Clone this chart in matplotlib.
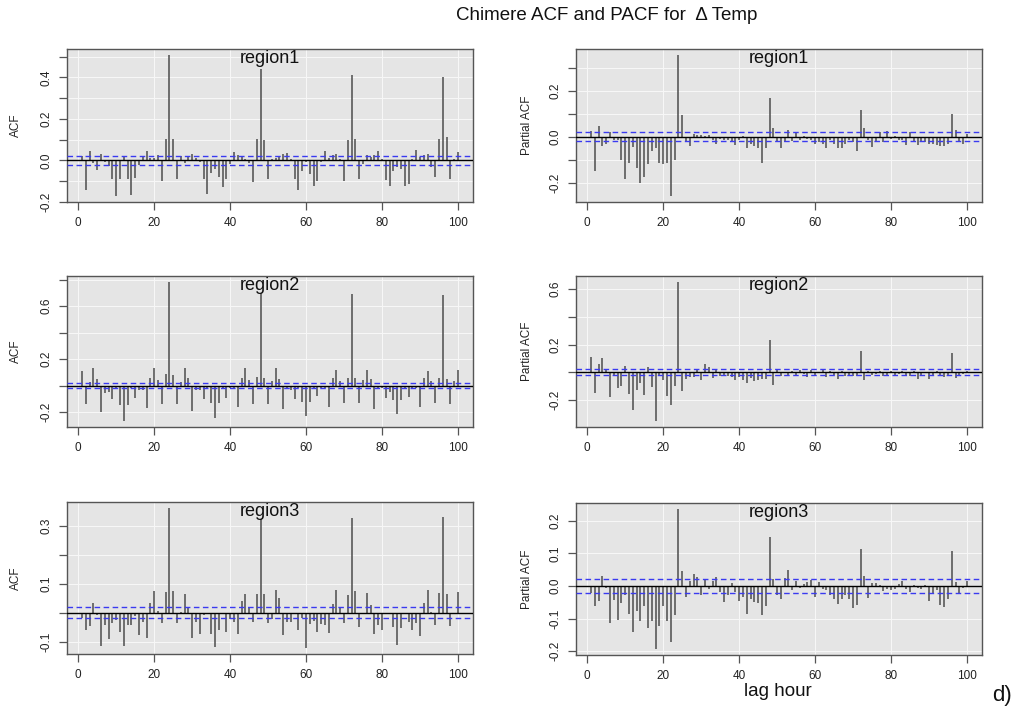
import numpy as np
import matplotlib
matplotlib.use("Agg")
import matplotlib.pyplot as plt

plt.rcParams["font.family"] = ["Liberation Sans", "DejaVu Sans"]
plt.rcParams["axes.unicode_minus"] = False

# lags 1..100 for each region
acf_region1 = [
    0.02, -0.14, 0.045, -0.01, -0.045, 0.03, -0.005, -0.025, -0.09, -0.17,
    -0.09, 0.02, -0.09, -0.165, -0.085, -0.02, 0.015, 0.045, 0.01, 0.01,
    0.025, -0.10, 0.105, 0.51, 0.105, -0.09, 0.02, -0.01, 0.015, 0.03,
    0.01, -0.005, -0.09, -0.16, -0.06, -0.04, -0.08, -0.13, -0.09, -0.015,
    0.04, 0.025, 0.02, 0.005, -0.01, -0.105, 0.105, 0.44, 0.10, -0.09,
    0.005, 0.01, 0.015, 0.03, 0.035, 0.005, -0.09, -0.14, -0.05, -0.005,
    -0.065, -0.125, -0.10, -0.005, 0.045, 0.01, 0.025, 0.03, 0.005, -0.10,
    0.10, 0.41, 0.105, -0.09, -0.015, 0.025, 0.015, 0.025, 0.045, 0.005,
    -0.095, -0.125, -0.05, -0.03, -0.04, -0.125, -0.115, 0.005, 0.05, 0.015,
    0.025, 0.03, -0.03, -0.08, 0.105, 0.40, 0.115, -0.09, 0.005, 0.04,
]
pacf_region1 = [
    0.027, -0.15, 0.05, -0.04, -0.03, 0.022, -0.012, -0.015, -0.10, -0.185,
    -0.115, -0.045, -0.135, -0.20, -0.175, -0.12, -0.06, -0.05, -0.115, -0.12,
    -0.115, -0.26, -0.10, 0.36, 0.097, -0.024, -0.04, 0.012, 0.007, 0.007,
    0.006, 0.007, -0.012, -0.03, -0.01, -0.015, -0.015, -0.022, -0.037, -0.015,
    0.003, -0.05, -0.03, -0.04, -0.05, -0.115, -0.05, 0.17, 0.037, -0.022,
    -0.05, -0.022, 0.03, -0.02, 0.022, -0.012, 0.003, -0.007, -0.015, -0.03,
    -0.022, -0.032, -0.047, -0.015, -0.03, -0.05, -0.047, -0.032, -0.015, -0.022,
    -0.06, 0.12, 0.037, -0.015, -0.045, -0.022, 0.022, -0.022, 0.027, -0.007,
    0.003, -0.012, -0.015, -0.037, 0.022, -0.022, -0.037, -0.022, -0.022, -0.03,
    -0.03, -0.037, -0.04, -0.04, -0.03, 0.10, 0.03, -0.022, -0.03, 0.012,
]
acf_region2 = [
    0.11, -0.14, 0.03, 0.13, 0.05, -0.20, -0.055, -0.05, -0.10, -0.02,
    -0.145, -0.27, -0.145, -0.02, -0.09, -0.03, -0.03, -0.17, 0.06, 0.13,
    0.04, -0.14, 0.085, 0.785, 0.08, -0.14, 0.03, 0.13, 0.055, -0.19,
    -0.03, -0.03, -0.10, -0.015, -0.13, -0.245, -0.13, -0.015, -0.09, -0.02,
    -0.02, -0.165, 0.055, 0.13, 0.045, -0.135, 0.065, 0.70, 0.06, -0.135,
    0.035, 0.13, 0.05, -0.18, -0.02, -0.03, -0.10, -0.015, -0.12, -0.23,
    -0.12, -0.015, -0.08, -0.015, -0.015, -0.16, 0.055, 0.12, 0.035, -0.13,
    0.06, 0.69, 0.055, -0.13, 0.045, 0.12, 0.05, -0.18, -0.02, -0.015,
    -0.09, -0.05, -0.11, -0.215, -0.11, -0.015, -0.085, -0.015, -0.015, -0.16,
    0.055, 0.11, 0.035, -0.13, 0.06, 0.685, 0.05, -0.14, 0.035, 0.12,
]
pacf_region2 = [
    0.11, -0.15, 0.06, 0.10, 0.02, -0.18, -0.02, -0.115, -0.10, 0.045,
    -0.155, -0.27, -0.13, -0.08, -0.165, 0.035, -0.11, -0.355, -0.025, -0.055,
    -0.17, -0.24, -0.10, 0.655, -0.135, -0.05, -0.035, -0.035, 0.017, -0.055,
    0.06, 0.035, -0.045, 0.017, -0.027, -0.02, -0.03, -0.036, -0.055, -0.036,
    -0.055, -0.075, -0.043, -0.06, -0.055, -0.05, -0.05, 0.23, -0.09, 0.017,
    -0.027, -0.007, -0.02, 0.012, -0.027, 0.017, -0.012, -0.036, 0.017, -0.02,
    -0.007, 0.017, -0.036, 0.012, -0.02, -0.05, 0.012, -0.027, -0.02, -0.03,
    -0.027, 0.155, -0.055, 0.012, -0.02, -0.012, 0.012, -0.027, -0.02, 0.012,
    -0.027, -0.012, 0.012, -0.02, -0.027, 0.012, -0.05, -0.02, -0.007, -0.05,
    -0.027, 0.012, -0.027, -0.036, -0.027, 0.14, -0.045, -0.027, -0.012, 0.012,
]
acf_region3 = [
    -0.02, -0.06, -0.047, 0.033, -0.008, -0.115, -0.043, -0.09, -0.035, -0.026,
    -0.067, -0.115, -0.044, -0.043, -0.012, -0.077, -0.031, -0.086, 0.035, 0.075,
    0.006, -0.037, 0.07, 0.362, 0.073, -0.037, 0.004, 0.066, 0.017, -0.086,
    -0.031, -0.072, -0.008, -0.005, -0.072, -0.12, -0.06, -0.005, -0.067, -0.023,
    -0.032, -0.075, 0.04, 0.066, 0.02, -0.031, 0.066, 0.322, 0.063, -0.035,
    -0.023, 0.077, 0.05, -0.078, -0.032, -0.032, -0.006, -0.061, -0.017, -0.123,
    -0.038, -0.029, -0.066, -0.038, -0.043, -0.069, 0.029, 0.077, 0.017, -0.035,
    0.061, 0.325, 0.075, -0.048, -0.004, 0.067, 0.026, -0.075, -0.044, -0.061,
    -0.006, -0.004, -0.05, -0.11, -0.052, -0.005, -0.031, -0.061, -0.035, -0.08,
    0.035, 0.077, 0.004, -0.044, 0.069, 0.328, 0.066, -0.046, -0.005, 0.072,
]
pacf_region3 = [
    -0.02, -0.06, -0.047, 0.03, -0.005, -0.112, -0.044, -0.103, -0.051, -0.027,
    -0.085, -0.14, -0.077, -0.108, -0.062, -0.13, -0.108, -0.194, -0.122, -0.06,
    -0.108, -0.17, -0.088, 0.237, 0.045, -0.034, 0.014, 0.038, 0.028, -0.027,
    0.022, -0.008, 0.014, 0.028, -0.018, -0.049, -0.029, 0.01, -0.018, -0.047,
    -0.034, -0.085, -0.039, -0.049, -0.051, -0.088, -0.06, 0.15, 0.02, -0.027,
    -0.039, 0.024, 0.048, -0.013, 0.014, -0.006, 0.007, 0.012, 0.017, -0.034,
    0.012, -0.008, -0.013, -0.029, -0.039, -0.054, -0.041, -0.029, -0.039, -0.067,
    -0.057, 0.114, 0.03, -0.037, 0.01, 0.01, 0.004, -0.016, -0.01, -0.013,
    -0.008, 0.007, 0.014, -0.01, -0.018, 0.004, -0.006, -0.008, 0.004, -0.047,
    -0.023, -0.013, -0.057, -0.064, -0.041, 0.106, 0.012, -0.021, -0.005, 0.014,
]

conf_limit = 0.02
x_ticks = [0, 20, 40, 60, 80, 100]

W, H = 1011, 710
fig = plt.figure(figsize=(W / 100, H / 100), dpi=100)


def px_box(left, top, right, bottom):
    return [left / W, 1 - bottom / H, (right - left) / W, (bottom - top) / H]


def corr_panel(rect, vals, name, ylab, yticks, label_every):
    ax = fig.add_axes(px_box(*rect))
    vals = np.asarray(vals)
    lags = np.arange(1, len(vals) + 1)
    ax.set_facecolor("#e5e5e5")
    ax.grid(True, color="#f7f7f7", lw=0.8, zorder=0)
    ax.set_axisbelow(True)

    ax.vlines(lags, 0, vals, color="#4d4d4d", lw=1.1, zorder=2)
    ax.axhline(0, color="black", lw=1.0, zorder=3)
    for c in (conf_limit, -conf_limit):
        ax.axhline(c, color="#3a3af0", lw=1.0, ls=(0, (4, 2.5)), zorder=3)

    # R-style 4% padding on both axes
    lo = min(vals.min(), -conf_limit)
    hi = max(vals.max(), conf_limit)
    pad = 0.04 * (hi - lo)
    ax.set_ylim(lo - pad, hi + pad)
    ax.set_xlim(1 - 0.04 * 99, 100 + 0.04 * 99)

    ax.set_xticks(x_ticks)
    ax.set_xticklabels([str(t) for t in x_ticks], fontsize=8.5, color="#222222")
    ax.set_yticks(yticks)
    ylabels = []
    for i, t in enumerate(yticks):
        ylabels.append(f"{t:.1f}" if i % label_every == 0 else "")
    ax.set_yticklabels(ylabels, fontsize=8.5, color="#222222",
                       rotation=90, va="center")
    ax.tick_params(length=6, width=0.9, color="#555555", pad=4.5)
    for sp in ax.spines.values():
        sp.set_color("#555555")
        sp.set_linewidth(1.0)

    ax.text(0.5, 0.995, name, transform=ax.transAxes, ha="center", va="top",
            fontsize=13, color="#111111", zorder=5)
    xl = 16 if rect[0] < 300 else 527
    fig.text(xl / W, 1 - (rect[1] + rect[3]) / 2 / H, ylab, rotation=90,
             ha="center", va="center", fontsize=8.5, color="#222222")
    return ax


corr_panel((67, 49, 473, 202), acf_region1, "region1", "ACF",
           np.round(np.arange(-0.2, 0.51, 0.1), 1), 2)
corr_panel((576, 49, 982, 202), pacf_region1, "region1", "Partial ACF",
           np.round(np.arange(-0.2, 0.31, 0.1), 1), 2)
corr_panel((67, 276, 473, 427), acf_region2, "region2", "ACF",
           np.round(np.arange(-0.2, 0.81, 0.2), 1), 2)
corr_panel((576, 276, 982, 427), pacf_region2, "region2", "Partial ACF",
           np.round(np.arange(-0.2, 0.61, 0.2), 1), 2)
corr_panel((67, 502, 473, 654), acf_region3, "region3", "ACF",
           np.round(np.arange(-0.1, 0.31, 0.1), 1), 2)
corr_panel((576, 503, 982, 655), pacf_region3, "region3", "Partial ACF",
           np.round(np.arange(-0.2, 0.21, 0.1), 1), 1)

fig.text(607 / W, 1 - 16 / H, "Chimere ACF and PACF for  \u0394 Temp",
         ha="center", va="center", fontsize=13.5, color="#111111")
fig.text(778 / W, 1 - 691 / H, "lag hour", ha="center", va="center",
         fontsize=13.5, color="#111111")
fig.text(1002 / W, 1 - 695 / H, "d)", ha="center", va="center",
         fontsize=16, color="#111111")

fig.savefig("out.png", dpi=100, facecolor="white")
